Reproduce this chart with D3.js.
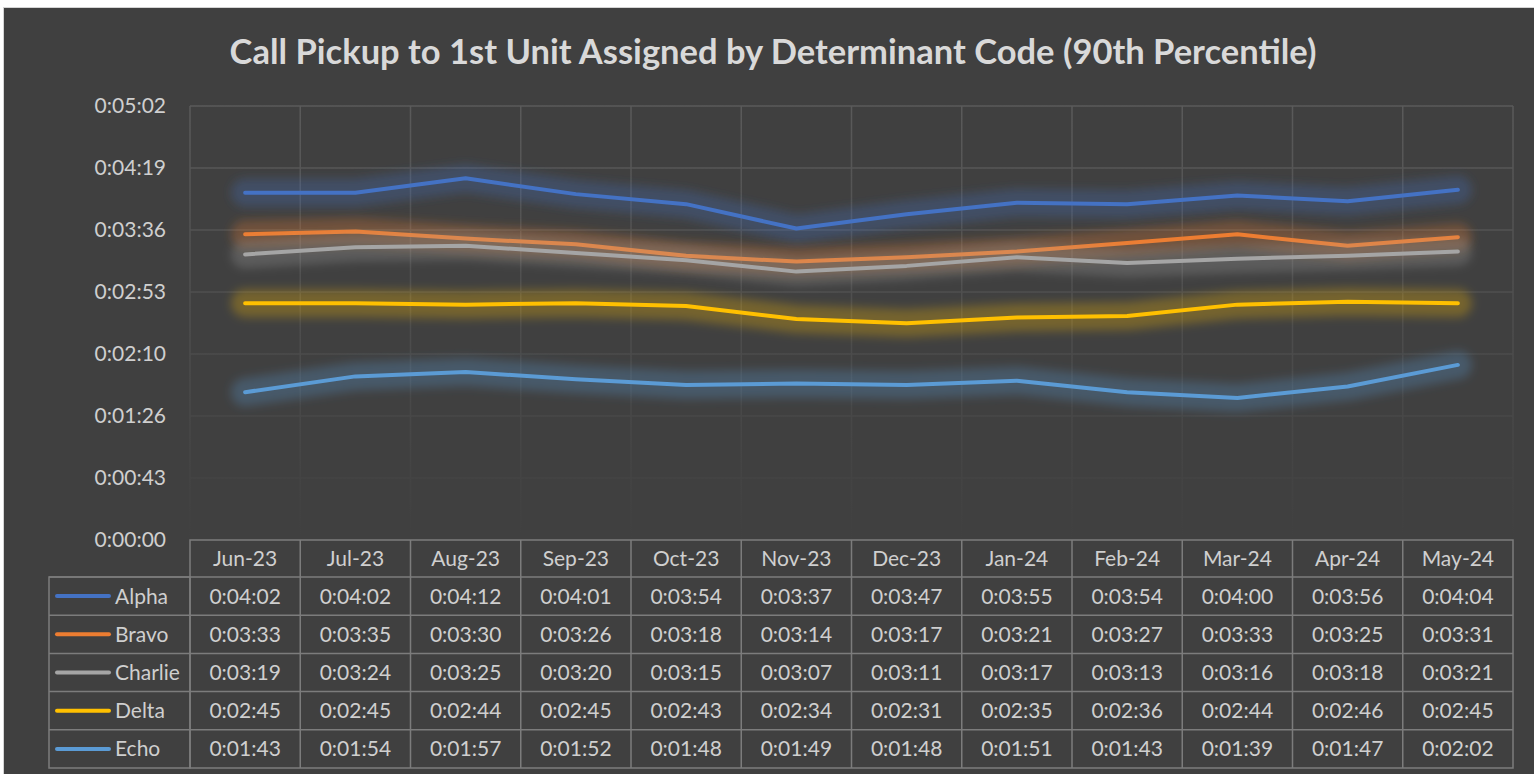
<!DOCTYPE html>
<html>
<head>
<meta charset="utf-8">
<script src="https://cdn.jsdelivr.net/npm/d3@7"></script>
<style>
  html, body { margin: 0; padding: 0; background: #fff; }
  svg { display: block; }
  text { font-family: Lato, "Open Sans", sans-serif; }
</style>
</head>
<body>
<svg id="chart" width="1534" height="774"></svg>
<script>
// values in seconds
var months = ['Jun-23','Jul-23','Aug-23','Sep-23','Oct-23','Nov-23','Dec-23','Jan-24','Feb-24','Mar-24','Apr-24','May-24'];
var names = ['Alpha','Bravo','Charlie','Delta','Echo'];
var colors = ['#4472C4','#ED7D31','#A5A5A5','#FFC000','#5B9BD5'];
var alpha   = [242,242,252,241,234,217,227,235,234,240,236,244];
var bravo   = [213,215,210,206,198,194,197,201,207,213,205,211];
var charlie = [199,204,205,200,195,187,191,197,193,196,198,201];
var delta   = [165,165,164,165,163,154,151,155,156,164,166,165];
var echo    = [103,114,117,112,108,109,108,111,103, 99,107,122];
var series = [alpha, bravo, charlie, delta, echo];
var yTicks = [0, 43.2, 86.4, 129.6, 172.8, 216, 259.2, 302.4];
var title = 'Call Pickup to 1st Unit Assigned by Determinant Code (90th Percentile)';

var svg = d3.select('#chart');
var pLeft = 190, pRight = 1513, pTop = 106, pBottom = 540;
var rowH = 38.2, headH = 37;
var lineCol = '#7c7c7c', txt = '#cfcfcf';

function fmt(s) {
    s = Math.round(s);
    var m = Math.floor(s / 60), sec = s % 60;
    return '0:' + ('0' + m).slice(-2) + ':' + ('0' + sec).slice(-2);
}

var x = d3.scaleBand().domain(months).range([pLeft, pRight]).padding(0);
var y = d3.scaleLinear().domain([0, 302.4]).range([pBottom, pTop]);

// background
svg.append('rect')
    .attr('x', 3.5).attr('y', 7.5).attr('width', 1535).attr('height', 770)
    .attr('fill', '#404040').attr('stroke', '#d4d4d4').attr('stroke-width', 1);

var defs = svg.append('defs');
var grad = defs.append('linearGradient').attr('id', 'gridFade')
    .attr('gradientUnits', 'userSpaceOnUse')
    .attr('x1', 0).attr('y1', pTop).attr('x2', 0).attr('y2', pBottom);
grad.append('stop').attr('offset', '0%').attr('stop-color', '#5a5a5a');
grad.append('stop').attr('offset', '55%').attr('stop-color', '#4c4c4c');
grad.append('stop').attr('offset', '100%').attr('stop-color', '#404040');

defs.append('filter').attr('id', 'glow')
    .attr('x', '-10%').attr('y', '-200%').attr('width', '120%').attr('height', '500%')
    .append('feGaussianBlur').attr('stdDeviation', 5);

// title
var t = svg.append('text')
    .attr('x', 773).attr('y', 64).attr('text-anchor', 'middle')
    .attr('fill', '#d9d9d9').attr('font-weight', 'bold').attr('font-size', 32)
    .text(title);
var tw = t.node().getComputedTextLength();
t.attr('font-size', 32 * 1087 / tw);

// gridlines
var grid = svg.append('g');
grid.selectAll('.hg').data(yTicks.slice(1)).enter().append('line')
    .attr('x1', pLeft).attr('x2', pRight)
    .attr('y1', d => y(d)).attr('y2', d => y(d))
    .attr('stroke', 'url(#gridFade)').attr('stroke-width', 1.5);
grid.selectAll('.vg').data(months.concat(['end'])).enter().append('line')
    .attr('x1', (d, i) => i < months.length ? x(d) : pRight)
    .attr('x2', (d, i) => i < months.length ? x(d) : pRight)
    .attr('y1', pTop).attr('y2', pBottom)
    .attr('stroke', 'url(#gridFade)').attr('stroke-width', 1.5);

// y axis labels
svg.selectAll('.ytick').data(yTicks).enter().append('text')
    .attr('x', 166).attr('y', d => y(d) + 7)
    .attr('text-anchor', 'end').attr('fill', txt).attr('font-size', 21)
    .text(d => fmt(d));

// lines with a soft glow underneath
var line = d3.line()
    .x((d, i) => x(months[i]) + x.bandwidth() / 2)
    .y(d => y(d));

series.forEach(function (s, k) {
    svg.append('path').datum(s)
        .attr('d', line)
        .attr('fill', 'none').attr('stroke', colors[k]).attr('stroke-width', 28)
        .attr('stroke-opacity', 0.28).attr('stroke-linejoin', 'round').attr('stroke-linecap', 'round')
        .attr('filter', 'url(#glow)');
    svg.append('path').datum(s)
        .attr('d', line)
        .attr('fill', 'none').attr('stroke', colors[k]).attr('stroke-width', 4)
        .attr('stroke-linejoin', 'round').attr('stroke-linecap', 'round');
});

// data table
var tbl = svg.append('g');
var legLeft = 49;
var tblBottom = pBottom + headH + rowH * names.length;

tbl.append('rect').attr('x', pLeft).attr('y', pBottom).attr('width', pRight - pLeft).attr('height', tblBottom - pBottom)
    .attr('fill', 'none').attr('stroke', lineCol).attr('stroke-width', 1.5);
tbl.append('rect').attr('x', legLeft).attr('y', pBottom + headH).attr('width', pLeft - legLeft).attr('height', rowH * names.length)
    .attr('fill', 'none').attr('stroke', lineCol).attr('stroke-width', 1.5);
tbl.selectAll('.vcol').data(months.slice(1)).enter().append('line')
    .attr('x1', d => x(d)).attr('x2', d => x(d))
    .attr('y1', pBottom).attr('y2', tblBottom)
    .attr('stroke', lineCol).attr('stroke-width', 1.5);
tbl.selectAll('.hrow').data(names).enter().append('line')
    .attr('x1', legLeft).attr('x2', pRight)
    .attr('y1', (d, i) => pBottom + headH + rowH * i).attr('y2', (d, i) => pBottom + headH + rowH * i)
    .attr('stroke', lineCol).attr('stroke-width', 1.5);

tbl.selectAll('.mhead').data(months).enter().append('text')
    .attr('x', d => x(d) + x.bandwidth() / 2).attr('y', pBottom + headH / 2 + 7.5)
    .attr('text-anchor', 'middle').attr('fill', txt).attr('font-size', 21)
    .text(d => d);

names.forEach(function (n, k) {
    var cy = pBottom + headH + rowH * k + rowH / 2;
    tbl.append('line').attr('x1', 57).attr('x2', 109).attr('y1', cy).attr('y2', cy)
        .attr('stroke', colors[k]).attr('stroke-width', 4).attr('stroke-linecap', 'round');
    tbl.append('text').attr('x', 115).attr('y', cy + 7.5)
        .attr('fill', txt).attr('font-size', 21).text(n);
    tbl.selectAll('.cell' + k).data(series[k]).enter().append('text')
        .attr('x', (d, i) => x(months[i]) + x.bandwidth() / 2).attr('y', cy + 7.5)
        .attr('text-anchor', 'middle').attr('fill', txt).attr('font-size', 21)
        .text(d => fmt(d));
});
</script>
</body>
</html>
